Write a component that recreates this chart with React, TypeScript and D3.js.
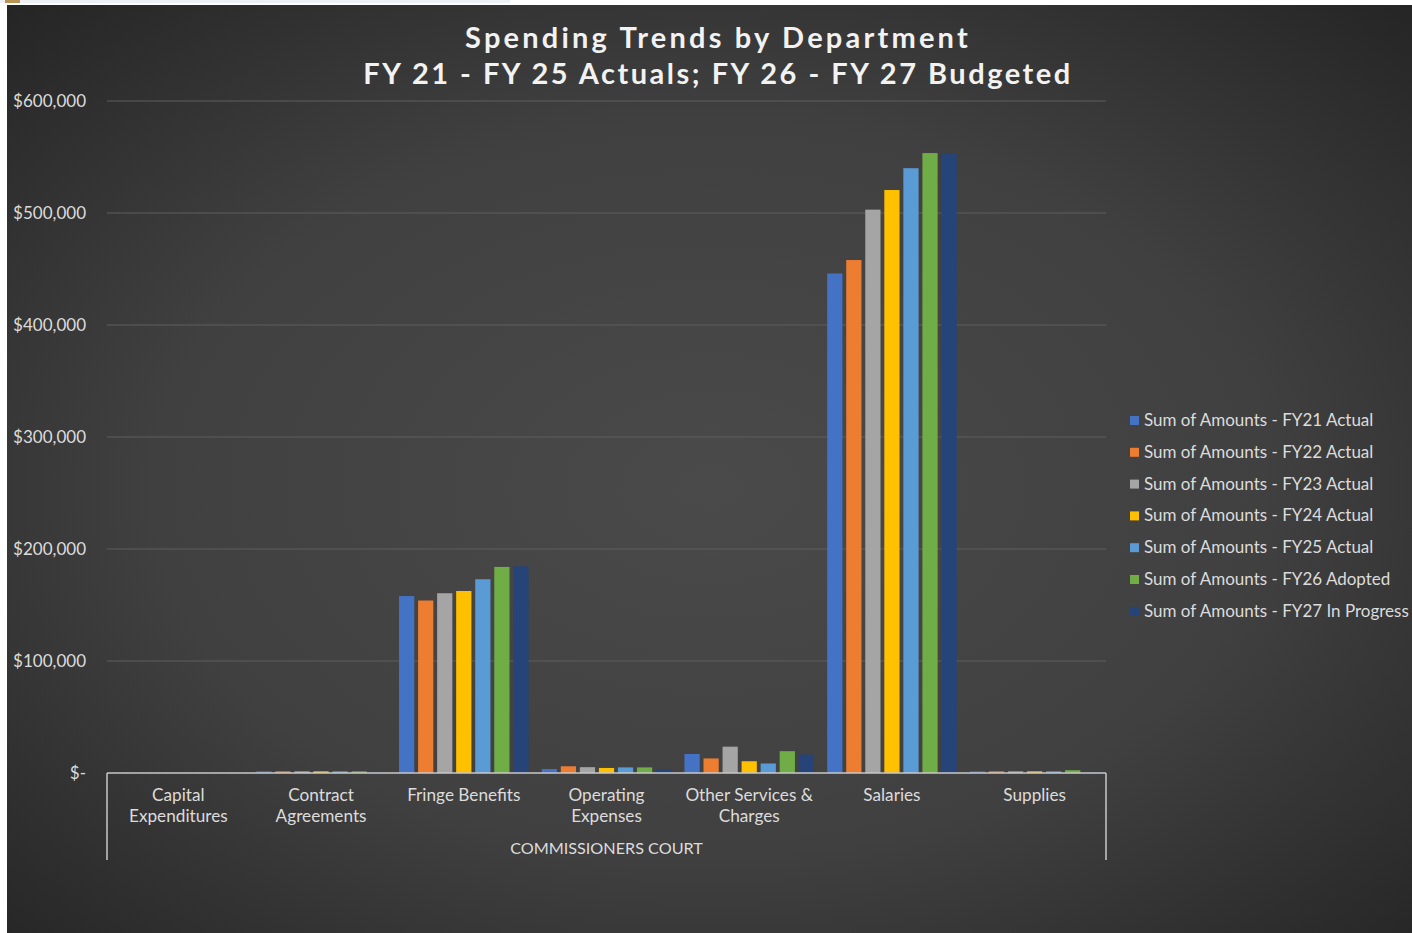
import React from "react";
import * as d3 from "d3";

const categories = [
  ["Capital", "Expenditures"],
  ["Contract", "Agreements"],
  ["Fringe Benefits"],
  ["Operating", "Expenses"],
  ["Other Services &", "Charges"],
  ["Salaries"],
  ["Supplies"],
];

const seriesNames = [
  "Sum of Amounts - FY21 Actual",
  "Sum of Amounts - FY22 Actual",
  "Sum of Amounts - FY23 Actual",
  "Sum of Amounts - FY24 Actual",
  "Sum of Amounts - FY25 Actual",
  "Sum of Amounts - FY26 Adopted",
  "Sum of Amounts - FY27 In Progress",
];

const seriesColors = ["#4472C4", "#ED7D31", "#A5A5A5", "#FFC000", "#5B9BD5", "#70AD47", "#264478"];

// values per series, in category order
const fy21 = [0, 1500, 158000, 3600, 17000, 446000, 1500];
const fy22 = [0, 1500, 154000, 6000, 13000, 458000, 1500];
const fy23 = [0, 1500, 160500, 5200, 23500, 503000, 1500];
const fy24 = [0, 1500, 162500, 4500, 10500, 520500, 1500];
const fy25 = [0, 1500, 173000, 5000, 8500, 540000, 1500];
const fy26 = [0, 1500, 184000, 5000, 19500, 553500, 2500];
const fy27 = [0, 500, 184500, 3500, 16500, 553000, 500];

const seriesValues = [fy21, fy22, fy23, fy24, fy25, fy26, fy27];

const yTicks = [0, 100000, 200000, 300000, 400000, 500000, 600000];

const FONT = "Lato, 'Open Sans', sans-serif";
const TEXT = "#dcdcdc";

export default function App() {
  const W = 1412;
  const H = 933;
  const plotLeft = 107;
  const plotRight = 1106;
  const plotTop = 101;
  const plotBottom = 773;

  const x0 = d3
    .scaleBand<number>()
    .domain(d3.range(categories.length))
    .range([plotLeft, plotRight])
    .padding(0);
  const x1 = d3
    .scaleBand<number>()
    .domain(d3.range(seriesNames.length))
    .range([0, 129.5])
    .paddingInner(0.2)
    .paddingOuter(0);
  const y = d3.scaleLinear().domain([0, 600000]).range([plotBottom, plotTop]);

  const fmt = (v: number) => (v === 0 ? "$-" : "$" + d3.format(",")(v));
  const groupOffset = (x0.bandwidth() - 129.5) / 2;

  return (
    <>
      <style>{`body{margin:0;background:#fff}`}</style>
      <svg width={W} height={H} style={{ display: "block" }}>
        <defs>
          <radialGradient id="bg" cx="50%" cy="52%" r="72%">
            <stop offset="0%" stopColor="#4a4a4a" />
            <stop offset="55%" stopColor="#404040" />
            <stop offset="100%" stopColor="#252525" />
          </radialGradient>
        </defs>
        <rect x={0} y={0} width={W} height={H} fill="#ffffff" />
        <rect x={0} y={0} width={510} height={3} fill="#edf1f5" />
        <rect x={5} y={0} width={15} height={3} fill="#b89457" />
        <rect x={7} y={5} width={W - 7} height={H - 5} fill="url(#bg)" />

        {/* title */}
        <text
          x={718}
          y={48}
          textAnchor="middle"
          fill="#f2f2f2"
          fontFamily={FONT}
          fontWeight="bold"
          fontSize={29}
          letterSpacing={3.2}
        >
          Spending Trends by Department
        </text>
        <text
          x={718}
          y={84}
          textAnchor="middle"
          fill="#f2f2f2"
          fontFamily={FONT}
          fontWeight="bold"
          fontSize={29}
          letterSpacing={2.5}
        >
          FY 21 - FY 25 Actuals; FY 26 - FY 27 Budgeted
        </text>

        {/* gridlines and y labels */}
        {yTicks.map((t) => (
          <g key={t}>
            {t > 0 && (
              <line x1={plotLeft} x2={plotRight} y1={y(t)} y2={y(t)} stroke="#5e5e5e" strokeWidth={1} />
            )}
            <text
              x={86}
              y={y(t) + 6}
              textAnchor="end"
              fill={TEXT}
              fontFamily={FONT}
              fontSize={17}
            >
              {fmt(t)}
            </text>
          </g>
        ))}

        {/* bars */}
        {seriesValues.map((vals, si) =>
          vals.map((v, ci) => {
            const bx = (x0(ci) as number) + groupOffset + (x1(si) as number);
            const top = y(v);
            const h = plotBottom - top;
            if (h <= 0) return null;
            return (
              <rect
                key={`${si}-${ci}`}
                x={bx}
                y={top}
                width={x1.bandwidth()}
                height={h}
                fill={seriesColors[si]}
              />
            );
          })
        )}

        {/* axis box */}
        <line x1={plotLeft} x2={plotRight} y1={plotBottom} y2={plotBottom} stroke="#c8c8c8" strokeWidth={1.5} />
        <line x1={plotLeft} x2={plotLeft} y1={plotBottom} y2={860} stroke="#c8c8c8" strokeWidth={1.5} />
        <line x1={plotRight} x2={plotRight} y1={plotBottom} y2={860} stroke="#c8c8c8" strokeWidth={1.5} />

        {categories.map((lines, ci) => (
          <text
            key={ci}
            x={(x0(ci) as number) + x0.bandwidth() / 2}
            y={801}
            textAnchor="middle"
            fill={TEXT}
            fontFamily={FONT}
            fontSize={17.2}
          >
            {lines.map((l, li) => (
              <tspan key={li} x={(x0(ci) as number) + x0.bandwidth() / 2} dy={li === 0 ? 0 : 21}>
                {l}
              </tspan>
            ))}
          </text>
        ))}
        <text
          x={(plotLeft + plotRight) / 2}
          y={854}
          textAnchor="middle"
          fill={TEXT}
          fontFamily={FONT}
          fontSize={16.2}
        >
          COMMISSIONERS COURT
        </text>

        {/* legend */}
        {seriesNames.map((n, i) => {
          const ly = 420 + i * 31.8;
          return (
            <g key={n}>
              <rect x={1130} y={ly - 4} width={9} height={9} fill={seriesColors[i]} />
              <text x={1144} y={ly + 6} fill={TEXT} fontFamily={FONT} fontSize={17}>
                {n}
              </text>
            </g>
          );
        })}
      </svg>
    </>
  );
}
